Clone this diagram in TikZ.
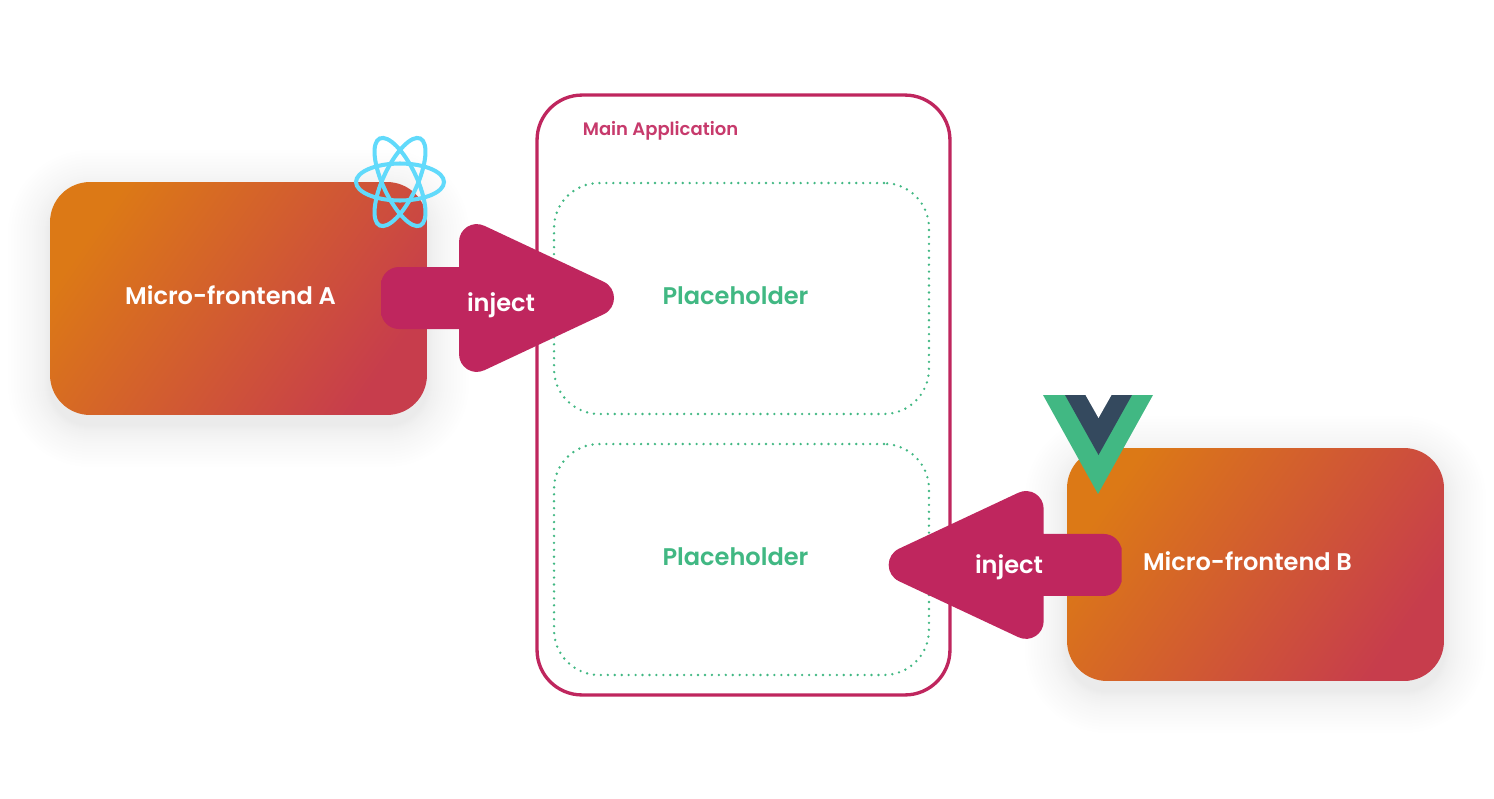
\documentclass[tikz,border=0pt]{standalone}
\usepackage{fontspec}
\setmainfont{Poppins SemiBold}
\usetikzlibrary{backgrounds}
\definecolor{injectred}{HTML}{BF265E}
\definecolor{mainlabel}{HTML}{C73A6C}
\definecolor{vuegreen}{HTML}{41B883}
\definecolor{vuedark}{HTML}{34495E}
\definecolor{reactblue}{HTML}{61DAFB}
\definecolor{cardorange}{HTML}{DC7916}
\definecolor{cardmid}{HTML}{D05C34}
\definecolor{cardrose}{HTML}{C73D4C}
\tikzset{
	cardbox/.style = {shade, shading = axis, top color = cardorange, middle color = cardmid, bottom color = cardrose, shading angle = 55,
		rounded corners = 0.8cm, minimum width = 7.54cm, minimum height = 4.66cm, outer sep = 0pt},
	cardlabel/.style = {text = white, font = \fontsize{13.7}{16}\selectfont},
	slotbox/.style = {draw = vuegreen, line width = 1.5pt, line cap = round, dash pattern = on 0pt off 3.95pt, rounded corners = 0.9cm,
		minimum width = 7.5cm, minimum height = 4.62cm, outer sep = 0pt},
	slotlabel/.style = {text = vuegreen, font = \fontsize{13.7}{16}\selectfont},
	injectarrow/.style = {fill = injectred},
	injectlabel/.style = {text = white, font = \fontsize{13.7}{16}\selectfont},
	atom/.style = {draw = reactblue, line width = 2.3pt}
}
\newcommand{\softshadow}[3]{% node, shift down, strength
	\begin{scope}[on background layer]
		\foreach \grow in {1,2,...,6,8,10,...,18,21,24,...,42}
			\fill[black, opacity = #3, rounded corners = 0.8cm + \grow*0.02cm]
				([xshift = -\grow*0.02cm, yshift = {(\grow-#2)*0.02cm}]#1.north west)
				rectangle ([xshift = \grow*0.02cm, yshift = {-(\grow+#2)*0.02cm}]#1.south east);
	\end{scope}}
\newcommand{\injectpath}{(381, 298) [rounded corners = 0.36cm] -- (381, 267) [sharp corners] -- (459, 267) -- (459, 242)
	.. controls (459, 228.8) and (472.4, 220.2) .. (484.4, 225.8) -- (603.6, 281.7)
	.. controls (617.5, 288.2) and (617.5, 307.8) .. (603.6, 314.3) -- (484.4, 370.2)
	.. controls (472.4, 375.8) and (459, 367.2) .. (459, 354) -- (459, 329) [rounded corners = 0.36cm] -- (381, 329) -- cycle}
\begin{document}
\begin{tikzpicture}[x = 0.02cm, y = -0.02cm]
	\useasboundingbox (0, 0) rectangle (1494, 798);

	% main application
	\node[draw = injectred, line width = 1.9pt, fill = white, rounded corners = 0.9cm, minimum width = 8.26cm, minimum height = 12cm, outer sep = 0pt] (mainapp) at (743.5, 395) {};
	\softshadow{mainapp}{6}{0.0008}
	\node[text = mainlabel, font = \fontsize{10.25}{12}\selectfont] (mainlabel) at (660.5, 131) {Main Application};
	\node[slotbox] (slotA) at (741.5, 298.5) {};
	\node[slotbox] (slotB) at (741.5, 559.5) {};
	\node[slotlabel] (labelA) at (735.5, 295.5) {Placeholder};
	\node[slotlabel] (labelB) at (735.5, 557) {Placeholder};

	% the two micro-frontends
	\node[cardbox] (cardA) at (238.5, 298.5) {};
	\softshadow{cardA}{10}{0.0058}
	\node[cardbox] (cardB) at (1255.5, 564.5) {};
	\softshadow{cardB}{10}{0.0058}
	\node[cardlabel] (textA) at (230.5, 295) {Micro-frontend A};
	\node[cardlabel] (textB) at (1247.5, 561) {Micro-frontend B};

	% react logo
	\draw[atom] (400, 182) circle [x radius = 0.88cm, y radius = 0.37cm];
	\foreach \tilt in {65, 115}
		\draw[atom] (400, 182) circle [x radius = 0.96cm, y radius = 0.34cm, rotate = \tilt];

	% vue logo
	\fill[vuegreen] (1043, 395) -- (1153, 395) -- (1098, 494) -- cycle;
	\fill[vuedark] (1065, 395) -- (1132, 395) -- (1098.5, 455) -- cycle;
	\fill[white] (1085.5, 395) -- (1111.5, 395) -- (1098.5, 418) -- cycle;

	% inject arrows
	\fill[injectarrow] \injectpath;
	\node[injectlabel] (injectA) at (501, 305) {inject};
	\fill[injectarrow, xscale = -1, xshift = -30.06cm, yshift = -5.34cm] \injectpath;
	\node[injectlabel] (injectB) at (1009, 567) {inject};
\end{tikzpicture}
\end{document}
